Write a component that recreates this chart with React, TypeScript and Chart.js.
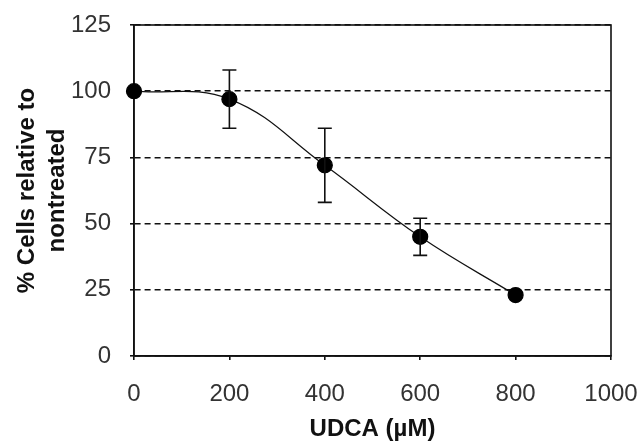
import React, { useEffect, useRef } from "react";
import { Chart, registerables } from "chart.js";

Chart.register(...registerables);

const doses = [0, 200, 400, 600, 800];
const cellsPct = [100, 97, 72, 45, 23];
const errors = [0, 11, 14, 7, 0];
const xTitle = "UDCA (µM)";
const yTitle = ["% Cells relative to", "nontreated"];

const FONT = "'Liberation Sans', Arial, sans-serif";

const errorBarPlugin = {
  id: "errorBars",
  afterDatasetsDraw(chart: any) {
    const ctx = chart.ctx;
    const xs = chart.scales.x;
    const ys = chart.scales.y;
    ctx.save();
    ctx.strokeStyle = "#111";
    ctx.lineWidth = 1.6;
    doses.forEach((d, i) => {
      const e = errors[i];
      if (!e) return;
      const px = xs.getPixelForValue(d);
      const top = ys.getPixelForValue(cellsPct[i] + e);
      const bot = ys.getPixelForValue(cellsPct[i] - e);
      ctx.beginPath();
      ctx.moveTo(px, top);
      ctx.lineTo(px, bot);
      ctx.moveTo(px - 7, top);
      ctx.lineTo(px + 7, top);
      ctx.moveTo(px - 7, bot);
      ctx.lineTo(px + 7, bot);
      ctx.stroke();
    });
    ctx.restore();
  },
};

const framePlugin = {
  id: "frame",
  beforeDatasetsDraw(chart: any) {
    const { ctx, chartArea } = chart;
    ctx.save();
    ctx.strokeStyle = "#111";
    ctx.lineWidth = 1.6;
    ctx.setLineDash([]);
    ctx.strokeRect(chartArea.left, chartArea.top, chartArea.right - chartArea.left, chartArea.bottom - chartArea.top);
    ctx.restore();
  },
};

export default function App() {
  const ref = useRef<HTMLCanvasElement | null>(null);
  useEffect(() => {
    if (!ref.current) return;
    const chart = new Chart(ref.current, {
      type: "line",
      data: {
        datasets: [
          {
            data: doses.map((d, i) => ({ x: d, y: cellsPct[i] })),
            borderColor: "#111",
            borderWidth: 1.2,
            backgroundColor: "#000",
            pointBackgroundColor: "#000",
            pointBorderColor: "#000",
            pointRadius: 7.5,
            tension: 0.4,
            fill: false,
            clip: false,
          },
        ],
      },
      options: {
        animation: false,
        responsive: true,
        maintainAspectRatio: false,
        layout: { padding: { top: 25, right: 26, left: 0, bottom: 0 } },
        plugins: { legend: { display: false }, tooltip: { enabled: false } },
        scales: {
          x: {
            type: "linear",
            min: 0,
            max: 1000,
            ticks: {
              stepSize: 200,
              color: "#333",
              font: { family: FONT, size: 24 },
              padding: 20,
              maxRotation: 0,
              callback: (v: any) => String(v),
            },
            grid: { drawOnChartArea: false, tickLength: 4, color: "#111", lineWidth: 1.6 },
            border: { color: "#111", width: 1.6 },
            title: { display: true, text: xTitle, color: "#111", font: { family: FONT, size: 24, weight: "bold" }, padding: { top: 0, bottom: 0 } },
            afterFit(scale: any) {
              scale.height = 88;
              scale.paddingLeft = 0;
              scale.paddingRight = 0;
            },
          },
          y: {
            min: 0,
            max: 125,
            ticks: { stepSize: 25, color: "#333", font: { family: FONT, size: 24 }, padding: 19 },
            grid: {
              color: "#111",
              lineWidth: 1.6,
              tickLength: 4,
            },
            border: { color: "#111", width: 1.6, dash: [6, 4] },
            title: { display: true, text: yTitle, color: "#111", font: { family: FONT, size: 24, weight: "bold", lineHeight: 1.25 }, padding: { top: 12, bottom: 0 } },
            afterFit(scale: any) {
              scale.width = 134;
              scale.paddingTop = 0;
              scale.paddingBottom = 0;
            },
          },
        },
      } as any,
      plugins: [framePlugin, errorBarPlugin],
    });
    return () => chart.destroy();
  }, []);
  return (
    <div style={{ position: "fixed", left: 0, top: 0, width: 637, height: 444, background: "#fff" }}>
      <canvas ref={ref} />
    </div>
  );
}
